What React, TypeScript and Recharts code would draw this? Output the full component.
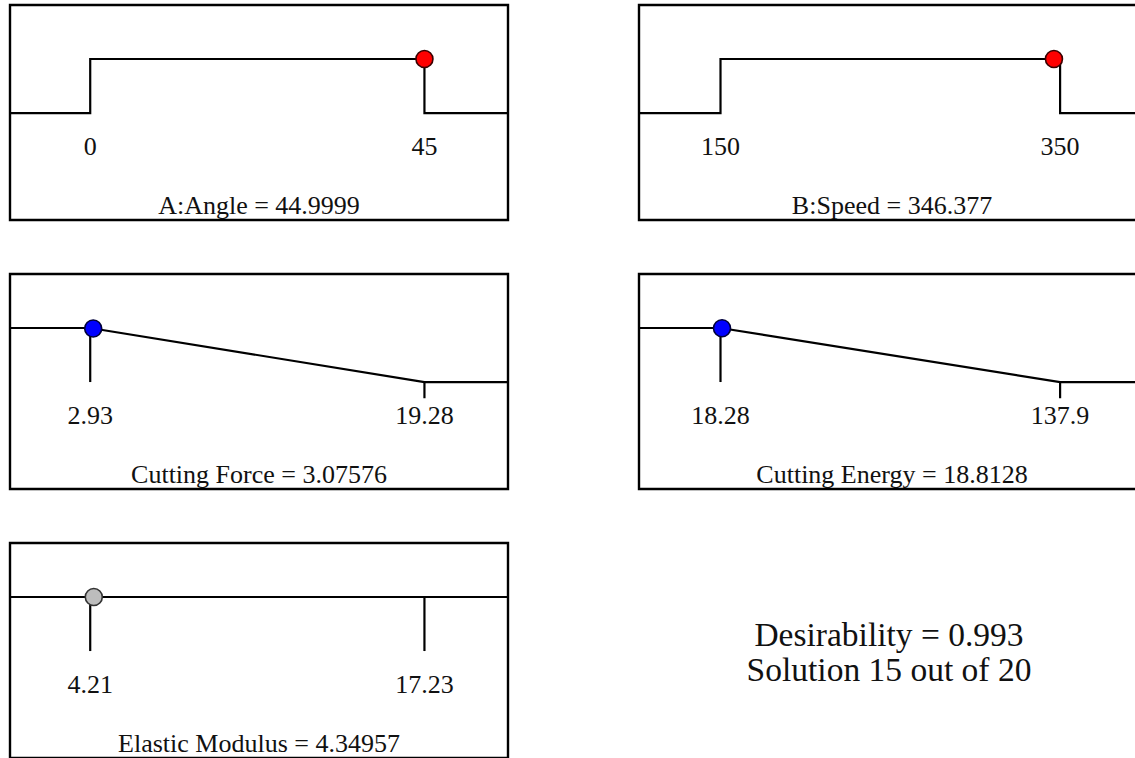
import React from 'react';
import {
  ComposedChart,
  Line,
  Scatter,
  XAxis,
  YAxis,
  ReferenceLine,
  ReferenceArea,
} from 'recharts';

// ---- data: one entry per ramp ----
const rampNames = ['A:Angle', 'B:Speed', 'Cutting Force', 'Cutting Energy', 'Elastic Modulus'];
const goals = ['range', 'range', 'minimize', 'minimize', 'none'];
const lowLimits = [0, 150, 2.93, 18.28, 4.21];
const highLimits = [45, 350, 19.28, 137.9, 17.23];
const lowLabels = ['0', '150', '2.93', '18.28', '4.21'];
const highLabels = ['45', '350', '19.28', '137.9', '17.23'];
const solutionValues = [44.9999, 346.377, 3.07576, 18.8128, 4.34957];
const solutionLabels = ['44.9999', '346.377', '3.07576', '18.8128', '4.34957'];
const solutionDesirability = [1, 1, 0.991, 0.996, 1];

const overallDesirability = '0.993';
const solutionNumber = 15;
const solutionTotal = 20;

// ---- styles / layout ----
const FONT = '"Liberation Serif", "Times New Roman", serif';
const DOT_FILLS = ['#ff0000', '#ff0000', '#0000ff', '#0000ff', '#bdbdbd'];
const DOT_STROKES = ['#3a0000', '#3a0000', '#00003a', '#00003a', '#333333'];
const PANELS = [
  { left: 10, top: 5, width: 498 },
  { left: 639, top: 5, width: 506 },
  { left: 10, top: 274, width: 498 },
  { left: 639, top: 274, width: 506 },
  { left: 10, top: 543, width: 498 },
];
const PANEL_H = 215;
const PAD = 2;
const Y_MIN = -1.98;
const Y_MAX = 2;
const PAD_LEFT = 0.24;
const PAD_RIGHT = 0.25;
const TICK_DROP = 0.3;
const LIMIT_LABEL_Y = -0.78;
const TITLE_Y = -1.87;
const TEXT_SIZE = 26;
const LINE_W = 2.2;

type Pt = { x: number; y: number; text?: string };

function rampPoints(goal: string, lo: number, hi: number, xmin: number, xmax: number): Pt[] {
  if (goal === 'range') {
    return [
      { x: xmin, y: 0 },
      { x: lo, y: 0 },
      { x: lo, y: 1 },
      { x: hi, y: 1 },
      { x: hi, y: 0 },
      { x: xmax, y: 0 },
    ];
  }
  if (goal === 'minimize') {
    return [
      { x: xmin, y: 1 },
      { x: lo, y: 1 },
      { x: hi, y: 0 },
      { x: xmax, y: 0 },
    ];
  }
  return [
    { x: xmin, y: 1 },
    { x: xmax, y: 1 },
  ];
}

function limitTicks(goal: string, lo: number, hi: number): [number, number, number][] {
  if (goal === 'minimize') return [[lo, 1, 0], [hi, 0, -TICK_DROP]];
  if (goal === 'none') return [[lo, 1, 0], [hi, 1, 0]];
  return [];
}

const TextShape = (props: any) => {
  const { cx, cy, payload } = props;
  return (
    <text
      x={cx}
      y={cy}
      textAnchor="middle"
      fontFamily={FONT}
      fontSize={TEXT_SIZE}
      fill="#111"
    >
      {payload.text}
    </text>
  );
};

function Ramp({ i }: { i: number }) {
  const lo = lowLimits[i];
  const hi = highLimits[i];
  const span = hi - lo;
  const xmin = lo - PAD_LEFT * span;
  const xmax = hi + PAD_RIGHT * span;
  const pos = PANELS[i];
  const line = rampPoints(goals[i], lo, hi, xmin, xmax);
  const ticks = limitTicks(goals[i], lo, hi);
  const texts: Pt[] = [
    { x: lo, y: LIMIT_LABEL_Y, text: lowLabels[i] },
    { x: hi, y: LIMIT_LABEL_Y, text: highLabels[i] },
    { x: (xmin + xmax) / 2, y: TITLE_Y, text: `${rampNames[i]} = ${solutionLabels[i]}` },
  ];
  const dot: Pt[] = [{ x: solutionValues[i], y: solutionDesirability[i] }];
  const fill = DOT_FILLS[i];
  const stroke = DOT_STROKES[i];

  return (
    <div
      style={{
        position: 'absolute',
        left: pos.left - PAD,
        top: pos.top - PAD,
      }}
    >
      <ComposedChart
        width={pos.width + PAD * 2}
        height={PANEL_H + PAD * 2}
        margin={{ top: PAD, right: PAD, bottom: PAD, left: PAD }}
      >
        <XAxis
          type="number"
          dataKey="x"
          domain={[xmin, xmax]}
          allowDataOverflow
          hide
        />
        <YAxis
          type="number"
          dataKey="y"
          domain={[Y_MIN, Y_MAX]}
          allowDataOverflow
          hide
        />
        <ReferenceArea
          x1={xmin}
          x2={xmax}
          y1={Y_MIN}
          y2={Y_MAX}
          fill="none"
          fillOpacity={0}
          stroke="#000"
          strokeWidth={2.4}
          ifOverflow="visible"
        />
        {ticks.map(([tx, y1, y2], k) => (
          <ReferenceLine
            key={k}
            segment={[
              { x: tx, y: y1 },
              { x: tx, y: y2 },
            ]}
            stroke="#000"
            strokeWidth={LINE_W}
            ifOverflow="visible"
          />
        ))}
        <Line
          data={line}
          dataKey="y"
          type="linear"
          stroke="#000"
          strokeWidth={LINE_W}
          dot={false}
          activeDot={false}
          isAnimationActive={false}
        />
        <Scatter data={texts} dataKey="y" shape={TextShape} isAnimationActive={false} />
        <Scatter
          data={dot}
          dataKey="y"
          isAnimationActive={false}
          shape={(p: any) => (
            <circle cx={p.cx} cy={p.cy} r={8.5} fill={fill} stroke={stroke} strokeWidth={1.6} />
          )}
        />
      </ComposedChart>
    </div>
  );
}

export default function App() {
  return (
    <div
      style={{
        position: 'absolute',
        left: 0,
        top: 0,
        width: 1135,
        height: 758,
        overflow: 'hidden',
        background: '#fff',
      }}
    >
      {rampNames.map((_, i) => (
        <Ramp key={i} i={i} />
      ))}
      <svg
        width={400}
        height={100}
        style={{ position: 'absolute', left: 689, top: 600 }}
      >
        <text x={200} y={45.7} textAnchor="middle" fontFamily={FONT} fontSize={33.5} fill="#111">
          {`Desirability = ${overallDesirability}`}
        </text>
        <text x={200} y={81} textAnchor="middle" fontFamily={FONT} fontSize={33.5} fill="#111">
          {`Solution ${solutionNumber} out of ${solutionTotal}`}
        </text>
      </svg>
    </div>
  );
}
